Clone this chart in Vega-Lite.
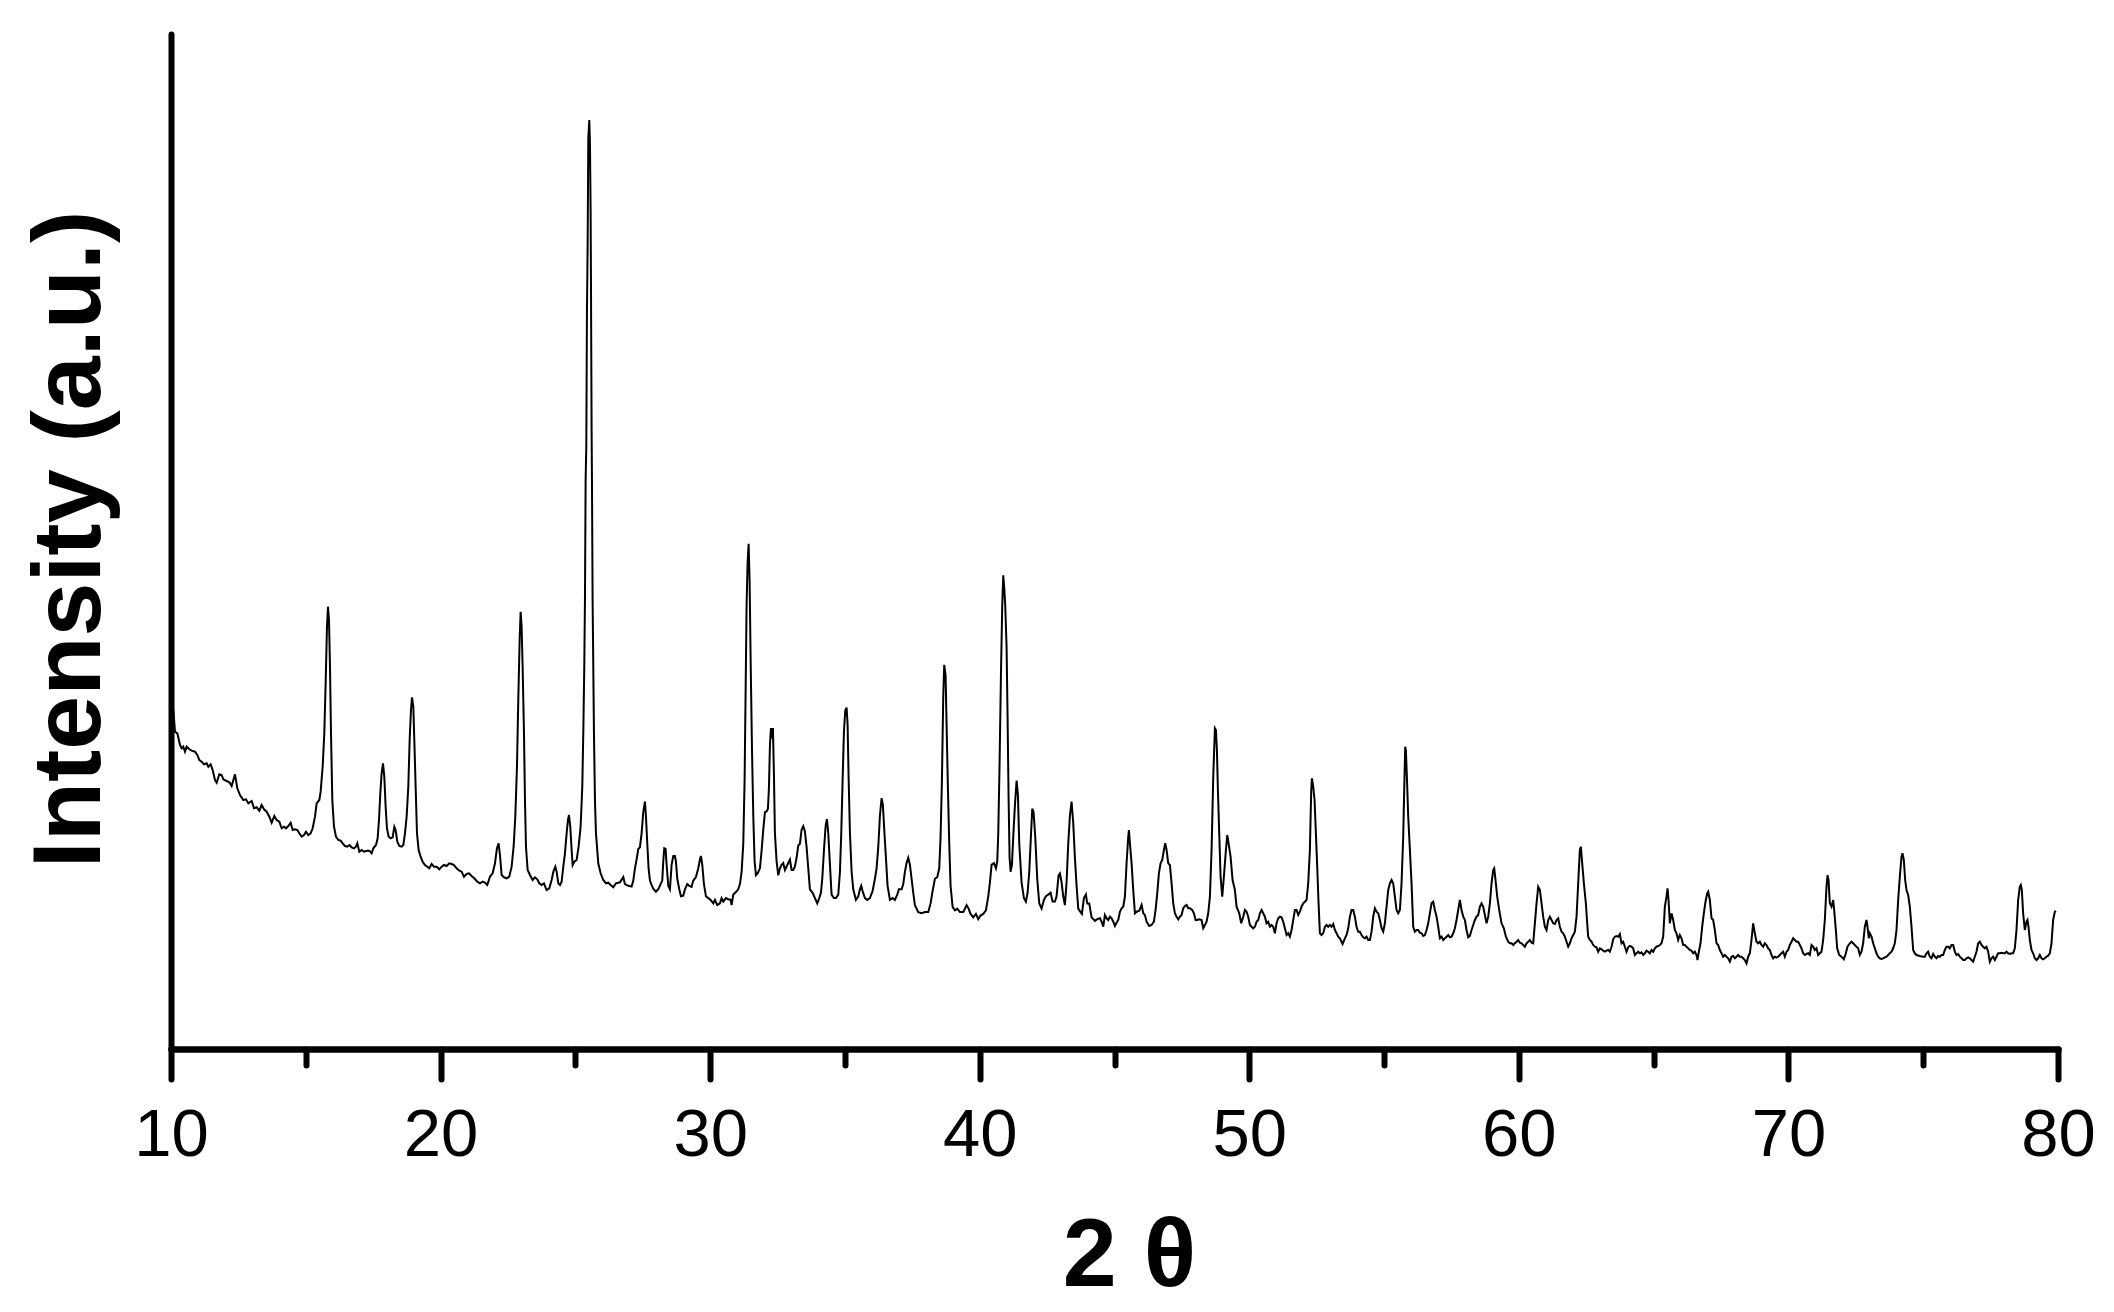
{
"$schema": "https://vega.github.io/schema/vega-lite/v6.json",
"width": 1887, "height": 1015,
"autosize": {"type": "none"},
"padding": {"left": 171, "top": 34, "right": 56, "bottom": 263},
"background": "white",
"config": {"view": {"stroke": null}},
"data": {"values": [
{"t":10.02,"i":345},{"t":10.087,"i":339},{"t":10.148,"i":317.3},{"t":10.235,"i":315.7},{"t":10.334,"i":304},{"t":10.396,"i":300.7},{"t":10.457,"i":302.3},{"t":10.519,"i":297.3},{"t":10.581,"i":302.3},{"t":10.68,"i":299.7},{"t":10.767,"i":298.3},{"t":10.89,"i":297.3},{"t":10.977,"i":294},{"t":11.051,"i":289},{"t":11.137,"i":287.3},{"t":11.224,"i":284.7},{"t":11.323,"i":285.7},{"t":11.385,"i":282.3},{"t":11.471,"i":284.7},{"t":11.545,"i":279},{"t":11.632,"i":269},{"t":11.694,"i":266.3},{"t":11.793,"i":274.7},{"t":11.879,"i":274},{"t":11.941,"i":269.7},{"t":12.065,"i":268},{"t":12.164,"i":266.7},{"t":12.25,"i":263},{"t":12.374,"i":274.7},{"t":12.46,"i":260.7},{"t":12.559,"i":254},{"t":12.683,"i":249},{"t":12.782,"i":249.7},{"t":12.868,"i":245.7},{"t":12.992,"i":248},{"t":13.079,"i":240.7},{"t":13.178,"i":241.7},{"t":13.276,"i":238.3},{"t":13.363,"i":244},{"t":13.45,"i":239.7},{"t":13.548,"i":237.3},{"t":13.647,"i":232.3},{"t":13.734,"i":226.3},{"t":13.833,"i":233},{"t":13.919,"i":229},{"t":14.018,"i":227.3},{"t":14.105,"i":220.7},{"t":14.191,"i":222.3},{"t":14.266,"i":220.7},{"t":14.352,"i":223},{"t":14.439,"i":226.3},{"t":14.513,"i":219},{"t":14.599,"i":219.7},{"t":14.686,"i":219},{"t":14.76,"i":215.7},{"t":14.847,"i":212.3},{"t":14.933,"i":214},{"t":15.007,"i":217.3},{"t":15.094,"i":214},{"t":15.18,"i":215.7},{"t":15.255,"i":220.7},{"t":15.341,"i":232.3},{"t":15.403,"i":245.7},{"t":15.502,"i":249},{"t":15.551,"i":257.3},{"t":15.626,"i":282.3},{"t":15.687,"i":315.7},{"t":15.737,"i":365.7},{"t":15.786,"i":422.3},{"t":15.823,"i":442.3},{"t":15.861,"i":429},{"t":15.898,"i":382.3},{"t":15.935,"i":315.7},{"t":15.984,"i":249},{"t":16.046,"i":222.3},{"t":16.12,"i":212.3},{"t":16.207,"i":209},{"t":16.293,"i":208.3},{"t":16.367,"i":205.7},{"t":16.454,"i":203},{"t":16.541,"i":202.3},{"t":16.615,"i":204},{"t":16.701,"i":201.7},{"t":16.788,"i":200.7},{"t":16.862,"i":202.3},{"t":16.912,"i":205.7},{"t":16.986,"i":197.3},{"t":17.072,"i":199},{"t":17.159,"i":197.3},{"t":17.258,"i":198.3},{"t":17.357,"i":198.3},{"t":17.443,"i":195.7},{"t":17.505,"i":200.7},{"t":17.604,"i":204},{"t":17.666,"i":210.7},{"t":17.715,"i":229},{"t":17.765,"i":255.7},{"t":17.814,"i":275.7},{"t":17.864,"i":285.7},{"t":17.913,"i":272.3},{"t":17.962,"i":242.3},{"t":18.012,"i":220.7},{"t":18.074,"i":212.3},{"t":18.148,"i":210.7},{"t":18.222,"i":211.7},{"t":18.284,"i":222.3},{"t":18.333,"i":219},{"t":18.395,"i":207.3},{"t":18.469,"i":203},{"t":18.556,"i":202.3},{"t":18.618,"i":204},{"t":18.68,"i":215.7},{"t":18.741,"i":232.3},{"t":18.803,"i":262.3},{"t":18.853,"i":309},{"t":18.902,"i":339},{"t":18.939,"i":351.7},{"t":18.989,"i":342.3},{"t":19.026,"i":309},{"t":19.075,"i":262.3},{"t":19.125,"i":215.7},{"t":19.187,"i":199},{"t":19.261,"i":192.3},{"t":19.335,"i":187.3},{"t":19.421,"i":184},{"t":19.508,"i":182.3},{"t":19.582,"i":180.7},{"t":19.669,"i":185},{"t":19.755,"i":182.3},{"t":19.854,"i":182.3},{"t":19.953,"i":179.7},{"t":20.04,"i":182.3},{"t":20.126,"i":184},{"t":20.225,"i":183},{"t":20.324,"i":185.7},{"t":20.411,"i":185},{"t":20.497,"i":184},{"t":20.596,"i":180.7},{"t":20.695,"i":178.3},{"t":20.781,"i":177.3},{"t":20.868,"i":172.3},{"t":20.967,"i":175},{"t":21.053,"i":175.7},{"t":21.152,"i":173},{"t":21.251,"i":170.7},{"t":21.363,"i":167.3},{"t":21.462,"i":165.7},{"t":21.56,"i":167.3},{"t":21.647,"i":166.3},{"t":21.733,"i":164},{"t":21.832,"i":172.3},{"t":21.931,"i":175.7},{"t":22.018,"i":185.7},{"t":22.092,"i":200.7},{"t":22.154,"i":205.7},{"t":22.203,"i":194},{"t":22.265,"i":174},{"t":22.352,"i":171.7},{"t":22.45,"i":170.7},{"t":22.549,"i":172.3},{"t":22.636,"i":182.3},{"t":22.71,"i":202.3},{"t":22.772,"i":232.3},{"t":22.834,"i":282.3},{"t":22.883,"i":349},{"t":22.933,"i":409},{"t":22.97,"i":437.3},{"t":23.007,"i":422.3},{"t":23.044,"i":382.3},{"t":23.094,"i":315.7},{"t":23.131,"i":249},{"t":23.168,"i":202.3},{"t":23.23,"i":179},{"t":23.316,"i":174},{"t":23.415,"i":169},{"t":23.502,"i":171.7},{"t":23.588,"i":169.7},{"t":23.662,"i":165.7},{"t":23.749,"i":164},{"t":23.835,"i":165.7},{"t":23.934,"i":159},{"t":24.033,"i":160.7},{"t":24.12,"i":169},{"t":24.182,"i":177.3},{"t":24.256,"i":182.3},{"t":24.305,"i":177.3},{"t":24.367,"i":165.7},{"t":24.429,"i":164},{"t":24.491,"i":167.3},{"t":24.553,"i":182.3},{"t":24.614,"i":195.7},{"t":24.676,"i":215.7},{"t":24.726,"i":229},{"t":24.763,"i":234},{"t":24.812,"i":222.3},{"t":24.862,"i":199},{"t":24.899,"i":184},{"t":24.961,"i":187.3},{"t":25.047,"i":189},{"t":25.121,"i":202.3},{"t":25.195,"i":222.3},{"t":25.257,"i":262.3},{"t":25.294,"i":315.7},{"t":25.331,"i":382.3},{"t":25.356,"i":449},
{"t":25.381,"i":569},{"t":25.406,"i":602.3},{"t":25.418,"i":669},{"t":25.43,"i":735.7},{"t":25.455,"i":802.3},{"t":25.467,"i":852.3},{"t":25.48,"i":910.7},{"t":25.517,"i":929},{"t":25.542,"i":904},{"t":25.566,"i":839},{"t":25.579,"i":769},{"t":25.591,"i":692.3},{"t":25.603,"i":619},{"t":25.616,"i":569},
{"t":25.64,"i":449},{"t":25.665,"i":382.3},{"t":25.69,"i":315.7},{"t":25.727,"i":249},{"t":25.764,"i":215.7},{"t":25.85,"i":185.7},{"t":25.937,"i":175.7},{"t":26.036,"i":169},{"t":26.135,"i":165.7},{"t":26.222,"i":166.3},{"t":26.308,"i":164},{"t":26.407,"i":161.7},{"t":26.506,"i":165.7},{"t":26.593,"i":166.3},
{"t":26.654,"i":166.7},{"t":26.778,"i":171.9},{"t":26.839,"i":164.9},{"t":26.963,"i":163.2},{"t":27.087,"i":162.5},{"t":27.149,"i":168.4},{"t":27.21,"i":180.7},{"t":27.272,"i":189.5},{"t":27.334,"i":200},{"t":27.396,"i":201.8},{"t":27.458,"i":215.8},{"t":27.519,"i":236.8},{"t":27.581,"i":247.4},{"t":27.618,"i":233.3},{"t":27.668,"i":205.3},{"t":27.717,"i":180.7},{"t":27.767,"i":168.4},{"t":27.829,"i":163.9},{"t":27.89,"i":160.4},{"t":27.989,"i":157.2},{"t":28.076,"i":159.7},{"t":28.162,"i":164.9},{"t":28.224,"i":168.4},{"t":28.261,"i":187.7},{"t":28.298,"i":200.7},{"t":28.348,"i":200},{"t":28.385,"i":184.2},{"t":28.447,"i":163.2},{"t":28.509,"i":159.7},{"t":28.57,"i":184.2},{"t":28.632,"i":193},{"t":28.694,"i":193},{"t":28.731,"i":187.7},{"t":28.781,"i":170.2},{"t":28.855,"i":159.7},{"t":28.917,"i":152.7},{"t":29.003,"i":153.4},{"t":29.065,"i":159.7},{"t":29.152,"i":164.9},{"t":29.226,"i":163.2},{"t":29.312,"i":162.1},{"t":29.374,"i":168.4},{"t":29.473,"i":171.9},{"t":29.56,"i":180.7},{"t":29.621,"i":189.5},{"t":29.658,"i":193},{"t":29.708,"i":184.2},{"t":29.77,"i":164.9},{"t":29.844,"i":152.7},{"t":29.931,"i":150.9},{"t":30.017,"i":149.1},{"t":30.116,"i":145.6},{"t":30.178,"i":149.1},{"t":30.264,"i":143.9},{"t":30.363,"i":145.6},{"t":30.425,"i":150.9},{"t":30.487,"i":147.4},{"t":30.586,"i":150.9},{"t":30.672,"i":149.8},{"t":30.759,"i":149.1},{"t":30.796,"i":143.9},{"t":30.858,"i":154.4},{"t":30.957,"i":156.9},{"t":31.043,"i":159.7},{"t":31.105,"i":164.9},{"t":31.167,"i":177.2},{"t":31.229,"i":205.3},{"t":31.278,"i":268.4},{"t":31.315,"i":356.1},{"t":31.352,"i":443.8},{"t":31.389,"i":485.9},{"t":31.427,"i":505.2},{"t":31.464,"i":468.3},{"t":31.501,"i":391.2},{"t":31.55,"i":303.5},{"t":31.6,"i":233.3},{"t":31.649,"i":187.7},{"t":31.699,"i":173.7},{"t":31.761,"i":175.5},{"t":31.847,"i":180.7},{"t":31.909,"i":198.3},{"t":31.971,"i":219.3},{"t":32.033,"i":236.8},{"t":32.094,"i":237.5},{"t":32.144,"i":240.3},{"t":32.181,"i":261.4},{"t":32.218,"i":303.5},{"t":32.255,"i":321},{"t":32.292,"i":310.5},{"t":32.329,"i":321},{"t":32.366,"i":275.4},{"t":32.403,"i":215.8},{"t":32.465,"i":187.7},{"t":32.527,"i":173.7},{"t":32.589,"i":180.7},{"t":32.65,"i":184.2},{"t":32.712,"i":186},{"t":32.774,"i":179},{"t":32.836,"i":182.5},{"t":32.898,"i":186},{"t":32.96,"i":189.5},{"t":33.021,"i":179},{"t":33.083,"i":179},{"t":33.145,"i":182.5},{"t":33.207,"i":191.2},{"t":33.269,"i":203.5},{"t":33.33,"i":205.3},{"t":33.392,"i":219.3},{"t":33.454,"i":222.8},{"t":33.516,"i":217.6},{"t":33.578,"i":201.8},{"t":33.64,"i":180.7},{"t":33.701,"i":159.7},{"t":33.8,"i":156.2},{"t":33.887,"i":150.9},{"t":33.974,"i":145.6},{"t":34.048,"i":150.9},{"t":34.11,"i":156.2},{"t":34.159,"i":170.2},{"t":34.221,"i":198.3},{"t":34.283,"i":222.8},{"t":34.332,"i":229.8},{"t":34.382,"i":215.8},{"t":34.444,"i":184.2},{"t":34.505,"i":154.4},{"t":34.592,"i":150.9},{"t":34.666,"i":150.9},{"t":34.753,"i":154.4},{"t":34.815,"i":177.2},{"t":34.864,"i":215.8},{"t":34.914,"i":268.4},{"t":34.963,"i":317.5},{"t":35.013,"i":338.6},{"t":35.062,"i":341.4},{"t":35.099,"i":324.5},{"t":35.136,"i":271.9},{"t":35.186,"i":215.8},{"t":35.248,"i":177.2},{"t":35.309,"i":159.7},{"t":35.408,"i":149.1},{"t":35.495,"i":152.7},{"t":35.556,"i":159.7},{"t":35.606,"i":163.2},{"t":35.655,"i":157.9},{"t":35.742,"i":150.9},{"t":35.828,"i":149.1},{"t":35.927,"i":150.9},{"t":36.026,"i":157.9},{"t":36.113,"i":170.2},{"t":36.174,"i":180.7},{"t":36.236,"i":201.8},{"t":36.298,"i":233.3},{"t":36.36,"i":250.9},{"t":36.409,"i":243.9},{"t":36.459,"i":219.3},{"t":36.521,"i":191.2},{"t":36.582,"i":163.2},{"t":36.669,"i":149.1},{"t":36.768,"i":150.9},{"t":36.854,"i":149.1},{"t":36.941,"i":154.4},{"t":37.003,"i":159.7},{"t":37.102,"i":159.7},{"t":37.164,"i":164.9},{"t":37.225,"i":177.2},{"t":37.287,"i":186},{"t":37.349,"i":191.2},{"t":37.411,"i":184.2},{"t":37.473,"i":170.2},{"t":37.535,"i":156.2},{"t":37.596,"i":143.9},{"t":37.72,"i":136.9},{"t":37.844,"i":135.8},{"t":37.967,"i":136.9},{"t":38.091,"i":136.9},{"t":38.178,"i":145.6},{"t":38.252,"i":157.9},{"t":38.338,"i":170.2},{"t":38.425,"i":171.9},{"t":38.499,"i":180.7},{"t":38.548,"i":212.3},{"t":38.598,"i":268.4},{"t":38.647,"i":352.6},{"t":38.684,"i":384.1},{"t":38.734,"i":373.6},{"t":38.771,"i":324.5},{"t":38.82,"i":261.4},{"t":38.87,"i":205.3},{"t":38.919,"i":163.2},{"t":38.994,"i":142.1},{"t":39.08,"i":138.6},{"t":39.167,"i":140.4},{"t":39.266,"i":136.9},{"t":39.39,"i":136.9},{"t":39.513,"i":143.9},{"t":39.587,"i":140.4},{"t":39.661,"i":135.1},{"t":39.76,"i":131.6},{"t":39.859,"i":135.1},{"t":39.946,"i":129.9},{"t":40.032,"i":133.4},{"t":40.131,"i":135.1},{"t":40.23,"i":138.6},{"t":40.317,"i":152.7},{"t":40.379,"i":166.7},{"t":40.44,"i":184.2},{"t":40.527,"i":186},{"t":40.601,"i":180.7},{"t":40.651,"i":187.7},{"t":40.688,"i":215.8},{"t":40.737,"i":285.9},{"t":40.787,"i":373.6},{"t":40.836,"i":443.8},{"t":40.873,"i":473.6},{"t":40.91,"i":461.3},{"t":40.947,"i":443.8},{"t":40.997,"i":401.7},{"t":41.034,"i":331.5},{"t":41.071,"i":250.9},{"t":41.108,"i":191.2},{"t":41.145,"i":177.2},{"t":41.195,"i":184.2},{"t":41.244,"i":212.3},{"t":41.306,"i":243.8},{"t":41.368,"i":268.4},{"t":41.417,"i":254.4},{"t":41.467,"i":205.3},{"t":41.553,"i":166.7},{"t":41.64,"i":150.9},{"t":41.714,"i":147.4},{"t":41.776,"i":156.2},{"t":41.838,"i":177.2},{"t":41.899,"i":212.3},{"t":41.949,"i":240.3},{"t":41.998,"i":236.8},{"t":42.06,"i":212.3},{"t":42.134,"i":170.2},{"t":42.209,"i":145.6},{"t":42.295,"i":140.4},{"t":42.382,"i":149.1},{"t":42.456,"i":152.7},{"t":42.542,"i":154.4},{"t":42.629,"i":156.2},{"t":42.703,"i":147.4},{"t":42.79,"i":147.4},{"t":42.851,"i":152.7},{"t":42.925,"i":173.7},{"t":42.975,"i":175.5},{"t":43.037,"i":166.7},{"t":43.098,"i":152.7},{"t":43.16,"i":143.9},{"t":43.222,"i":166.7},{"t":43.284,"i":205.3},{"t":43.346,"i":233.3},{"t":43.407,"i":247.4},{"t":43.469,"i":226.3},{"t":43.531,"i":191.2},{"t":43.593,"i":163.2},{"t":43.655,"i":140.4},{"t":43.741,"i":136.9},{"t":43.791,"i":135.1},{"t":43.865,"i":150.9},{"t":43.939,"i":154.4},{"t":43.989,"i":145.6},{"t":44.063,"i":145.6},{"t":44.15,"i":131.6},{"t":44.273,"i":128.1},{"t":44.36,"i":129.9},
{"t":44.459,"i":130.7},{"t":44.521,"i":127.3},{"t":44.583,"i":122.3},{"t":44.644,"i":134},{"t":44.706,"i":130.7},{"t":44.768,"i":129},{"t":44.83,"i":132.3},{"t":44.892,"i":130.7},{"t":44.954,"i":127.3},{"t":45.015,"i":123},{"t":45.077,"i":126.3},{"t":45.139,"i":129},{"t":45.201,"i":137.3},{"t":45.263,"i":140.7},{"t":45.324,"i":142.3},{"t":45.386,"i":152.3},{"t":45.448,"i":185.7},{"t":45.51,"i":212.3},{"t":45.535,"i":219},{"t":45.572,"i":205.7},{"t":45.634,"i":185.7},{"t":45.695,"i":159},{"t":45.757,"i":135.7},{"t":45.819,"i":137.3},{"t":45.918,"i":138.3},{"t":46.005,"i":144},{"t":46.066,"i":135.7},{"t":46.128,"i":134},{"t":46.19,"i":127.3},{"t":46.289,"i":123},{"t":46.375,"i":124},{"t":46.462,"i":127.3},{"t":46.524,"i":139},{"t":46.586,"i":155.7},{"t":46.647,"i":175.7},{"t":46.709,"i":185.7},{"t":46.771,"i":189},{"t":46.833,"i":199},{"t":46.882,"i":205.7},{"t":46.932,"i":199},{"t":46.994,"i":185.7},{"t":47.055,"i":184},{"t":47.117,"i":165.7},{"t":47.179,"i":145.7},{"t":47.241,"i":135.7},{"t":47.303,"i":132.3},{"t":47.365,"i":129.7},{"t":47.426,"i":132.3},{"t":47.488,"i":134},{"t":47.55,"i":140.7},{"t":47.612,"i":143},{"t":47.674,"i":144},{"t":47.735,"i":140.7},{"t":47.797,"i":140.7},{"t":47.884,"i":139},{"t":47.946,"i":135.7},{"t":48.007,"i":129},{"t":48.069,"i":129},{"t":48.143,"i":129.7},{"t":48.23,"i":129},{"t":48.292,"i":120.7},{"t":48.354,"i":124},{"t":48.415,"i":127.3},{"t":48.477,"i":135.7},{"t":48.539,"i":152.3},{"t":48.601,"i":199},{"t":48.663,"i":272.3},{"t":48.725,"i":320.7},{"t":48.762,"i":319},{"t":48.799,"i":299},{"t":48.836,"i":259},{"t":48.885,"i":215.7},{"t":48.935,"i":172.3},{"t":48.997,"i":152.3},{"t":49.058,"i":172.3},{"t":49.133,"i":199},{"t":49.182,"i":214},{"t":49.232,"i":205.7},{"t":49.306,"i":192.3},{"t":49.38,"i":169},{"t":49.466,"i":159},{"t":49.528,"i":142.3},{"t":49.627,"i":135.7},{"t":49.701,"i":125.7},{"t":49.776,"i":132.3},{"t":49.837,"i":139},{"t":49.899,"i":137.3},{"t":49.961,"i":132.3},{"t":50.023,"i":124},{"t":50.085,"i":122.3},{"t":50.146,"i":120.7},{"t":50.208,"i":122.3},{"t":50.27,"i":127.3},{"t":50.332,"i":129},{"t":50.394,"i":135.7},{"t":50.456,"i":139},{"t":50.517,"i":135.7},{"t":50.579,"i":132.3},{"t":50.641,"i":125.7},{"t":50.703,"i":127.3},{"t":50.765,"i":122.3},{"t":50.826,"i":124},{"t":50.888,"i":122.3},{"t":50.95,"i":115.7},{"t":51.012,"i":125.7},{"t":51.074,"i":130.7},{"t":51.136,"i":132.3},{"t":51.197,"i":131.7},{"t":51.259,"i":127.3},{"t":51.321,"i":120.7},{"t":51.383,"i":114},{"t":51.445,"i":115.7},{"t":51.506,"i":112.3},{"t":51.568,"i":119},{"t":51.63,"i":129},{"t":51.692,"i":139},{"t":51.754,"i":139},{"t":51.816,"i":134},{"t":51.877,"i":137.3},{"t":51.939,"i":142.3},{"t":52.001,"i":145.7},{"t":52.063,"i":147.3},{"t":52.125,"i":149},{"t":52.186,"i":165.7},{"t":52.248,"i":199},{"t":52.298,"i":259},{"t":52.323,"i":270.7},{"t":52.372,"i":262.3},{"t":52.421,"i":249},{"t":52.471,"i":215.7},{"t":52.52,"i":182.3},{"t":52.57,"i":145.7},{"t":52.619,"i":115.7},{"t":52.681,"i":114},{"t":52.743,"i":115.7},{"t":52.805,"i":122.3},{"t":52.867,"i":124},{"t":52.928,"i":122.3},{"t":52.99,"i":124},{"t":53.052,"i":122.3},{"t":53.114,"i":125},{"t":53.176,"i":119},{"t":53.237,"i":115.7},{"t":53.299,"i":112.3},{"t":53.361,"i":110.7},{"t":53.46,"i":105},{"t":53.547,"i":110.7},{"t":53.608,"i":114},{"t":53.67,"i":120.7},{"t":53.732,"i":132.3},{"t":53.794,"i":139},{"t":53.856,"i":139},{"t":53.917,"i":132.3},{"t":53.979,"i":122.3},{"t":54.041,"i":117.3},{"t":54.103,"i":117.3},{"t":54.165,"i":114},{"t":54.227,"i":111.7},{"t":54.288,"i":110.7},{"t":54.35,"i":112.3},{"t":54.412,"i":109},{"t":54.474,"i":109},{"t":54.536,"i":117.3},{"t":54.597,"i":132.3},{"t":54.659,"i":140.7},{"t":54.721,"i":137.3},{"t":54.783,"i":135.7},{"t":54.845,"i":129},{"t":54.907,"i":120.7},{"t":54.968,"i":117.3},{"t":55.03,"i":125.7},{"t":55.092,"i":142.3},{"t":55.154,"i":159},{"t":55.216,"i":165.7},{"t":55.277,"i":169},{"t":55.339,"i":165.7},{"t":55.401,"i":152.3},{"t":55.463,"i":139},{"t":55.525,"i":135.7},{"t":55.587,"i":139},{"t":55.648,"i":165.7},{"t":55.71,"i":212.3},{"t":55.747,"i":259},{"t":55.784,"i":302.3},{"t":55.809,"i":299},{"t":55.846,"i":272.3},{"t":55.896,"i":232.3},{"t":55.958,"i":199},{"t":56.019,"i":165.7},{"t":56.081,"i":122.3},{"t":56.143,"i":117.3},{"t":56.205,"i":119},{"t":56.267,"i":119},{"t":56.328,"i":116.3},{"t":56.39,"i":115.7},{"t":56.452,"i":113},{"t":56.514,"i":114},{"t":56.576,"i":119},{"t":56.638,"i":125.7},{"t":56.699,"i":135.7},{"t":56.761,"i":145.7},{"t":56.823,"i":147.3},{"t":56.885,"i":139},{"t":56.947,"i":132.3},{"t":57.008,"i":122.3},{"t":57.07,"i":110.7},{"t":57.132,"i":112.3},{"t":57.194,"i":109},{"t":57.256,"i":110.7},{"t":57.318,"i":112.3},{"t":57.379,"i":114},{"t":57.441,"i":111.7},{"t":57.503,"i":112.3},{"t":57.565,"i":115.7},{"t":57.627,"i":120.7},{"t":57.688,"i":129},{"t":57.75,"i":139},{"t":57.812,"i":149},{"t":57.874,"i":139},{"t":57.936,"i":132.3},{"t":57.998,"i":129},{"t":58.059,"i":119},{"t":58.121,"i":111.7},{"t":58.183,"i":113},{"t":58.245,"i":119},{"t":58.307,"i":124},{"t":58.368,"i":129},{"t":58.43,"i":132.3},{"t":58.492,"i":134},{"t":58.554,"i":142.3},{"t":58.616,"i":145.7},{"t":58.677,"i":142.3},{"t":58.739,"i":134},{"t":58.801,"i":125.7},{"t":58.863,"i":132.3},{"t":58.925,"i":145.7},{"t":58.987,"i":165.7},{"t":59.048,"i":179},{"t":59.086,"i":180.7},{"t":59.147,"i":165.7},{"t":59.197,"i":152.3},{"t":59.271,"i":139},{"t":59.358,"i":125.7},{"t":59.444,"i":120.7},{"t":59.519,"i":112.3},{"t":59.605,"i":107.3},{"t":59.667,"i":105.7},{"t":59.729,"i":105.7},{"t":59.791,"i":104},{"t":59.852,"i":105.7},{"t":59.914,"i":107.3},{"t":59.976,"i":109},{"t":60.038,"i":106.3},{"t":60.1,"i":105.7},{"t":60.161,"i":104},{"t":60.223,"i":102.3},{"t":60.285,"i":105.7},{"t":60.347,"i":107.3},{"t":60.409,"i":109},{"t":60.471,"i":106.3},{"t":60.532,"i":105.7},{"t":60.594,"i":125.7},{"t":60.656,"i":145.7},{"t":60.718,"i":162.3},{"t":60.78,"i":159},{"t":60.841,"i":145.7},{"t":60.903,"i":132.3},{"t":60.965,"i":122.3},{"t":61.027,"i":119},{"t":61.089,"i":129},{"t":61.15,"i":132.3},{"t":61.212,"i":129},{"t":61.274,"i":125.7},{"t":61.336,"i":125},{"t":61.398,"i":129},{"t":61.46,"i":130.7},{"t":61.521,"i":122.3},{"t":61.583,"i":117.3},{"t":61.645,"i":115.7},{"t":61.707,"i":112.3},{"t":61.769,"i":107.3},{"t":61.83,"i":102.3},{"t":61.892,"i":105.7},{"t":61.954,"i":110.7},{"t":62.016,"i":114},{"t":62.078,"i":117.3},{"t":62.14,"i":132.3},{"t":62.201,"i":165.7},{"t":62.263,"i":199},{"t":62.3,"i":202.3},{"t":62.35,"i":185.7},{"t":62.412,"i":165.7},{"t":62.486,"i":145.7},{"t":62.535,"i":125.7},{"t":62.572,"i":112.3},{"t":62.634,"i":109},{"t":62.696,"i":107.3},{"t":62.758,"i":104},{"t":62.82,"i":102.3},{"t":62.881,"i":101.7},{"t":62.943,"i":97.3},{"t":63.005,"i":100.7},
{"t":63.067,"i":99.7},{"t":63.128,"i":98.3},{"t":63.19,"i":97.3},{"t":63.252,"i":98.3},{"t":63.314,"i":99},{"t":63.376,"i":97.3},{"t":63.438,"i":102.3},{"t":63.499,"i":109.7},{"t":63.561,"i":112.3},{"t":63.623,"i":113},{"t":63.685,"i":112.3},{"t":63.747,"i":115},{"t":63.808,"i":105.7},{"t":63.87,"i":107.3},{"t":63.932,"i":102.3},{"t":63.994,"i":97.3},{"t":64.056,"i":101.7},{"t":64.117,"i":103},{"t":64.179,"i":102.3},{"t":64.241,"i":100.7},{"t":64.303,"i":94},{"t":64.365,"i":95.7},{"t":64.427,"i":97.3},{"t":64.488,"i":95.7},{"t":64.55,"i":96.7},{"t":64.612,"i":94},{"t":64.674,"i":95.7},{"t":64.736,"i":98.3},{"t":64.797,"i":97.3},{"t":64.859,"i":95.7},{"t":64.921,"i":99},{"t":64.983,"i":97.3},{"t":65.045,"i":100.7},{"t":65.107,"i":102.3},{"t":65.168,"i":103},{"t":65.23,"i":104},{"t":65.292,"i":105.7},{"t":65.354,"i":112.3},{"t":65.416,"i":142.3},{"t":65.477,"i":152.3},{"t":65.515,"i":160.7},{"t":65.552,"i":149},{"t":65.601,"i":125.7},{"t":65.663,"i":135.7},{"t":65.725,"i":129},{"t":65.787,"i":119},{"t":65.849,"i":115.7},{"t":65.91,"i":109},{"t":65.972,"i":114},{"t":66.034,"i":110.7},{"t":66.096,"i":104},{"t":66.158,"i":104},{"t":66.219,"i":102.3},{"t":66.281,"i":100.7},{"t":66.343,"i":99},{"t":66.405,"i":98.3},{"t":66.467,"i":95.7},{"t":66.529,"i":97.3},{"t":66.59,"i":94},{"t":66.627,"i":89},{"t":66.677,"i":97.3},{"t":66.739,"i":105.7},{"t":66.801,"i":122.3},{"t":66.862,"i":135.7},{"t":66.924,"i":147.3},{"t":66.986,"i":155.7},{"t":67.023,"i":157.3},{"t":67.085,"i":149},{"t":67.147,"i":130.7},{"t":67.209,"i":129},{"t":67.27,"i":119},{"t":67.332,"i":105.7},{"t":67.394,"i":104},{"t":67.456,"i":99},{"t":67.518,"i":95.7},{"t":67.58,"i":92.3},{"t":67.641,"i":94},{"t":67.703,"i":92.3},{"t":67.765,"i":90.7},{"t":67.827,"i":87.3},{"t":67.889,"i":92.3},{"t":67.95,"i":93},{"t":68.012,"i":90.7},{"t":68.074,"i":92.3},{"t":68.136,"i":94},{"t":68.198,"i":92.3},{"t":68.26,"i":92.3},{"t":68.321,"i":90.7},{"t":68.383,"i":89},{"t":68.445,"i":85.7},{"t":68.507,"i":92.3},{"t":68.569,"i":95.7},{"t":68.63,"i":109},{"t":68.692,"i":125.7},{"t":68.754,"i":115.7},{"t":68.816,"i":107.3},{"t":68.878,"i":105.7},{"t":68.94,"i":107.3},{"t":69.001,"i":104},{"t":69.063,"i":102.3},{"t":69.125,"i":105.7},{"t":69.187,"i":104},{"t":69.249,"i":100.7},{"t":69.31,"i":99},{"t":69.372,"i":94},{"t":69.434,"i":90.7},{"t":69.496,"i":92.3},{"t":69.558,"i":91.3},{"t":69.62,"i":92.3},{"t":69.681,"i":94},{"t":69.743,"i":95.7},{"t":69.805,"i":97.3},{"t":69.867,"i":92.3},{"t":69.929,"i":97.3},{"t":69.99,"i":99},{"t":70.052,"i":104},{"t":70.114,"i":107.3},{"t":70.176,"i":110.7},{"t":70.238,"i":109},{"t":70.3,"i":107.3},{"t":70.361,"i":107.3},{"t":70.423,"i":104},{"t":70.485,"i":100.7},{"t":70.547,"i":95.7},{"t":70.609,"i":94},{"t":70.67,"i":95},{"t":70.732,"i":95.7},{"t":70.794,"i":94},{"t":70.856,"i":104},{"t":70.918,"i":102.3},{"t":70.98,"i":99},{"t":71.041,"i":100.7},{"t":71.103,"i":94},{"t":71.165,"i":95.7},{"t":71.227,"i":97.3},{"t":71.289,"i":109},{"t":71.35,"i":129},{"t":71.412,"i":162.3},{"t":71.45,"i":174},{"t":71.487,"i":169},{"t":71.536,"i":145.7},{"t":71.598,"i":142.3},{"t":71.66,"i":149},{"t":71.697,"i":139},{"t":71.759,"i":119},{"t":71.808,"i":100.7},{"t":71.883,"i":94},{"t":71.969,"i":92.3},{"t":72.056,"i":89.7},{"t":72.13,"i":95.7},{"t":72.191,"i":102.3},{"t":72.278,"i":105.7},{"t":72.34,"i":107.3},{"t":72.401,"i":105.7},{"t":72.463,"i":104},{"t":72.525,"i":102.3},{"t":72.587,"i":100.7},{"t":72.649,"i":94},{"t":72.711,"i":97.3},{"t":72.772,"i":105.7},{"t":72.834,"i":122.3},{"t":72.896,"i":129},{"t":72.933,"i":122.3},{"t":72.983,"i":110.7},{"t":73.02,"i":115.7},{"t":73.082,"i":112.3},{"t":73.143,"i":105.7},{"t":73.205,"i":100.7},{"t":73.267,"i":95.7},{"t":73.329,"i":92.3},{"t":73.391,"i":90.7},{"t":73.452,"i":90},{"t":73.514,"i":90.7},{"t":73.576,"i":91.7},{"t":73.638,"i":92.3},{"t":73.7,"i":94},{"t":73.761,"i":95.7},{"t":73.823,"i":97.3},{"t":73.885,"i":100.7},{"t":73.947,"i":105.7},{"t":74.009,"i":119},{"t":74.071,"i":149},{"t":74.132,"i":172.3},{"t":74.194,"i":192.3},{"t":74.231,"i":195.7},{"t":74.281,"i":189},{"t":74.33,"i":169},{"t":74.38,"i":159},{"t":74.442,"i":154},{"t":74.503,"i":142.3},{"t":74.565,"i":122.3},{"t":74.627,"i":99},{"t":74.689,"i":95.7},{"t":74.751,"i":94},{"t":74.874,"i":93},{"t":74.998,"i":92.3},{"t":75.06,"i":92.3},{"t":75.122,"i":95.7},{"t":75.183,"i":97.3},{"t":75.245,"i":92.3},{"t":75.307,"i":90.7},{"t":75.369,"i":95},{"t":75.431,"i":92.3},{"t":75.493,"i":90.7},{"t":75.554,"i":93},{"t":75.616,"i":92.3},{"t":75.678,"i":94},{"t":75.74,"i":94},{"t":75.802,"i":99},{"t":75.863,"i":102.3},{"t":75.925,"i":102.3},{"t":75.987,"i":100.7},{"t":76.049,"i":104},{"t":76.111,"i":104},{"t":76.173,"i":97.3},{"t":76.234,"i":94},{"t":76.296,"i":95},{"t":76.358,"i":92.3},{"t":76.42,"i":90.7},{"t":76.482,"i":89},{"t":76.543,"i":89},{"t":76.605,"i":90.7},{"t":76.667,"i":91.7},{"t":76.729,"i":90.7},{"t":76.791,"i":89},{"t":76.853,"i":87.3},{"t":76.914,"i":92.3},{"t":76.976,"i":97.3},{"t":77.038,"i":105.7},{"t":77.1,"i":107.3},{"t":77.162,"i":104},{"t":77.223,"i":102.3},{"t":77.285,"i":100.7},{"t":77.347,"i":102.3},{"t":77.409,"i":97.3},{"t":77.471,"i":87.3},{"t":77.533,"i":90.7},{"t":77.594,"i":92.3},{"t":77.656,"i":89},{"t":77.718,"i":92.3},{"t":77.78,"i":95.7},{"t":77.842,"i":95.7},{"t":77.903,"i":96.3},{"t":77.965,"i":95.7},{"t":78.027,"i":95.7},{"t":78.089,"i":97.3},{"t":78.151,"i":95.7},{"t":78.213,"i":95},{"t":78.274,"i":95.7},{"t":78.336,"i":95.7},{"t":78.398,"i":100.7},{"t":78.46,"i":119},{"t":78.522,"i":149},{"t":78.583,"i":162.3},{"t":78.621,"i":164},{"t":78.658,"i":159},{"t":78.707,"i":135.7},{"t":78.769,"i":119},{"t":78.831,"i":127.3},{"t":78.868,"i":129},{"t":78.905,"i":122.3},{"t":78.955,"i":109},{"t":79.016,"i":99},{"t":79.078,"i":95.7},{"t":79.14,"i":90.7},{"t":79.202,"i":89},{"t":79.264,"i":90.7},{"t":79.326,"i":94},{"t":79.387,"i":90.7},{"t":79.449,"i":89.7},{"t":79.511,"i":90.7},{"t":79.573,"i":92.3},{"t":79.635,"i":93.3},{"t":79.696,"i":95.7},{"t":79.758,"i":105.7},{"t":79.82,"i":129},{"t":79.882,"i":137.3},{"t":79.919,"i":138.3}
]},
"mark": {"type": "line", "color": "black", "strokeWidth": 2},
"encoding": {
  "x": {"field": "t", "type": "quantitative",
    "scale": {"domain": [10, 80], "nice": false, "zero": false},
    "axis": {"values": [10,15,20,25,30,35,40,45,50,55,60,65,70,75,80],
      "grid": false, "domainColor": "black", "domainWidth": 6.5, "domainCap": "round",
      "tickColor": "black", "tickWidth": 6, "tickCap": "round",
      "tickSize": {"condition": {"test": "datum.value % 10 === 0", "value": 30}, "value": 16},
      "labelExpr": "datum.value % 10 === 0 ? datum.label : ''",
      "labelFont": "Liberation Sans", "labelFontSize": 67, "labelColor": "black",
      "labelBaseline": "alphabetic", "labelPadding": 76, "labelOverlap": false, "labelFlush": false,
      "title": "2 θ", "titleFont": "Liberation Sans", "titleFontSize": 97, "titleFontWeight": "bold",
      "titleColor": "black", "titleBaseline": "alphabetic", "titleAlign": "center",
      "titleX": 958, "titleY": 236}},
  "y": {"field": "i", "type": "quantitative",
    "scale": {"domain": [0, 1015], "nice": false, "zero": false},
    "axis": {"ticks": false, "labels": false, "grid": false,
      "domainColor": "black", "domainWidth": 6, "domainCap": "round",
      "title": "Intensity (a.u.)", "titleFont": "Liberation Sans", "titleFontSize": 97,
      "titleFontWeight": "bold", "titleColor": "black", "titleAngle": 270,
      "titleBaseline": "alphabetic", "titleAlign": "center", "titleX": -72, "titleY": 505}}
}
}
